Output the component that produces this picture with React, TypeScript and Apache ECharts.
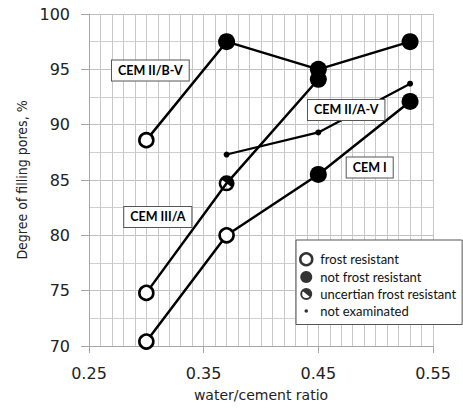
import React, { useEffect, useRef } from "react";
import * as echarts from "echarts";

// water/cement ratios
const wcAll = [0.3, 0.37, 0.45, 0.53];
const wcIIAV = [0.37, 0.45, 0.53];
const wcIIIA = [0.3, 0.37, 0.45];

// degree of filling pores, %
const cemIIBV = [88.6, 97.5, 95.0, 97.5];
const cemIIBVStatus = ["frost", "not", "not", "not"];
const cemIIIA = [74.8, 84.7, 94.1];
const cemIIIAStatus = ["frost", "uncertain", "not"];
const cemI = [70.4, 80.0, 85.5, 92.1];
const cemIStatus = ["frost", "frost", "not", "not"];
const cemIIAV = [87.3, 89.3, 93.7];
const cemIIAVStatus = ["none", "none", "none"];

const xTickLabels = [0.25, 0.35, 0.45, 0.55];

const legendNames = [
  "frost resistant",
  "not frost resistant",
  "uncertian frost resistant",
  "not examinated",
];

const seriesNames = ["CEM II/B-V", "CEM III/A", "CEM I", "CEM II/A-V"];
// anchor (data space) of the boxed series labels
const labelAnchorX = [0.3035, 0.31, 0.4948, 0.4743];
const labelAnchorY = [94.9, 81.66, 86.13, 91.33];

const HALF_PATH =
  "path://M0 10 A10 10 0 1 1 20 10 A10 10 0 1 1 0 10 Z M3.2 10 A6.8 6.8 0 1 0 16.8 10 A6.8 6.8 0 1 0 3.2 10 Z M4.4 5.6 A7 7 0 0 1 15.6 14.4 Z";
const DOT_PATH =
  "path://M0 0 M20 20 M7 10 A3 3 0 1 1 13 10 A3 3 0 1 1 7 10 Z";

function markerFor(status: string) {
  if (status === "frost")
    return {
      symbol: "circle",
      symbolSize: 14,
      itemStyle: { color: "#fff", borderColor: "#000", borderWidth: 2.6 },
    };
  if (status === "not")
    return {
      symbol: "circle",
      symbolSize: 17,
      itemStyle: { color: "#000", borderWidth: 0 },
    };
  if (status === "uncertain")
    return {
      symbol: HALF_PATH,
      symbolSize: 16,
      itemStyle: { color: "#000", borderWidth: 0 },
    };
  return {
    symbol: "circle",
    symbolSize: 6,
    itemStyle: { color: "#000", borderWidth: 0 },
  };
}

function buildLine(name: string, xs: number[], ys: number[], st: string[], width: number) {
  return {
    type: "line",
    name,
    xAxisIndex: 0,
    yAxisIndex: 0,
    z: 3,
    lineStyle: { color: "#000", width },
    itemStyle: { color: "#000" },
    data: ys.map((y, i) => ({ value: [xs[i], y], ...markerFor(st[i]) })),
  };
}

export default function App() {
  const ref = useRef<HTMLDivElement>(null);
  useEffect(() => {
    if (!ref.current) return;
    const chart = echarts.init(ref.current, undefined, { renderer: "svg" });
    const axisFont = "DejaVu Sans";
    const legendIcons = [
      { symbol: "circle", itemStyle: { color: "#fff", borderColor: "#000", borderWidth: 2.5 } },
      { symbol: "circle", itemStyle: { color: "#000", borderWidth: 0 } },
      { symbol: HALF_PATH, itemStyle: { color: "#000", borderWidth: 0 } },
      { symbol: DOT_PATH, itemStyle: { color: "#000", borderWidth: 0 } },
    ];
    chart.setOption({
      animation: false,
      backgroundColor: "#fff",
      grid: { left: 89, right: 30, top: 14, bottom: 62 },
      xAxis: [
        {
          type: "value",
          min: 0.25,
          max: 0.55,
          interval: 0.01,
          position: "bottom",
          axisLine: { show: true, lineStyle: { color: "#a6a6a6", width: 1 } },
          axisTick: { show: false },
          axisLabel: { show: false },
          splitLine: { show: true, lineStyle: { color: "#c8c8c8", width: 1 } },
        },
        {
          type: "value",
          min: 0.25,
          max: 0.55,
          position: "bottom",
          axisLine: { show: false },
          axisTick: {
            show: true,
            customValues: xTickLabels,
            length: 7,
            lineStyle: { color: "#a6a6a6" },
          },
          axisLabel: {
            show: true,
            customValues: xTickLabels,
            margin: 19,
            fontSize: 16,
            fontFamily: axisFont,
            color: "#222",
            formatter: (v: number) => v.toFixed(2),
          },
          splitLine: { show: false },
          name: "water/cement ratio",
          nameLocation: "middle",
          nameGap: 42,
          nameTextStyle: { fontSize: 14, fontFamily: axisFont, color: "#222" },
        },
      ],
      yAxis: {
        type: "value",
        min: 70,
        max: 100,
        interval: 5,
        axisLine: { show: true, lineStyle: { color: "#a6a6a6" } },
        axisTick: { show: true, length: 8, lineStyle: { color: "#a6a6a6" } },
        axisLabel: {
          fontSize: 16,
          fontFamily: axisFont,
          color: "#222",
          margin: 19,
        },
        splitLine: { show: true, lineStyle: { color: "#c0c0c0" } },
        minorTick: { show: false, splitNumber: 2 },
        minorSplitLine: { show: true, lineStyle: { color: "#cfcfcf" } },
        name: "Degree of filling pores, %",
        nameLocation: "middle",
        nameGap: 52,
        nameTextStyle: {
          fontSize: 14,
          fontFamily: "Liberation Sans Narrow, DejaVu Sans Condensed, Lato",
          color: "#222",
        },
      },
      legend: {
        orient: "vertical",
        left: 296,
        top: 240,
        itemWidth: 18,
        itemHeight: 12,
        itemGap: 4,
        padding: [12, 6, 7, 3],
        backgroundColor: "#fff",
        borderColor: "#555",
        borderWidth: 1,
        selectedMode: false,
        textStyle: { fontSize: 13, fontFamily: "Lato", color: "#111" },
        data: legendNames.map((n, i) => ({
          name: n,
          icon: legendIcons[i].symbol,
          itemStyle: legendIcons[i].itemStyle,
        })),
      },
      series: [
        buildLine(seriesNames[0], wcAll, cemIIBV, cemIIBVStatus, 2.5),
        buildLine(seriesNames[1], wcIIIA, cemIIIA, cemIIIAStatus, 2.5),
        buildLine(seriesNames[2], wcAll, cemI, cemIStatus, 2.5),
        buildLine(seriesNames[3], wcIIAV, cemIIAV, cemIIAVStatus, 2.2),
        ...legendNames.map((n, i) => ({
          type: "scatter",
          name: n,
          data: [],
          symbol: legendIcons[i].symbol,
          itemStyle: legendIcons[i].itemStyle,
        })),
        {
          type: "scatter",
          name: "labels",
          z: 10,
          symbolSize: 1,
          itemStyle: { color: "#fff", opacity: 1 },
          silent: true,
          label: {
            show: true,
            position: "inside",
            formatter: (p: any) => p.name,
            backgroundColor: "#fff",
            borderColor: "#555",
            borderWidth: 1,
            padding: [4, 6, 3, 6],
            fontSize: 12.5,
            fontWeight: "bold",
            fontFamily: "Lato",
            color: "#000",
            opacity: 1,
            textBorderWidth: 0,
          },
          data: seriesNames.map((n, i) => ({
            name: n,
            value: [labelAnchorX[i], labelAnchorY[i]],
          })),
        },
      ],
    });
    return () => chart.dispose();
  }, []);
  return (
    <div
      ref={ref}
      style={{ position: "fixed", left: 0, top: 0, width: 463, height: 408 }}
    />
  );
}
